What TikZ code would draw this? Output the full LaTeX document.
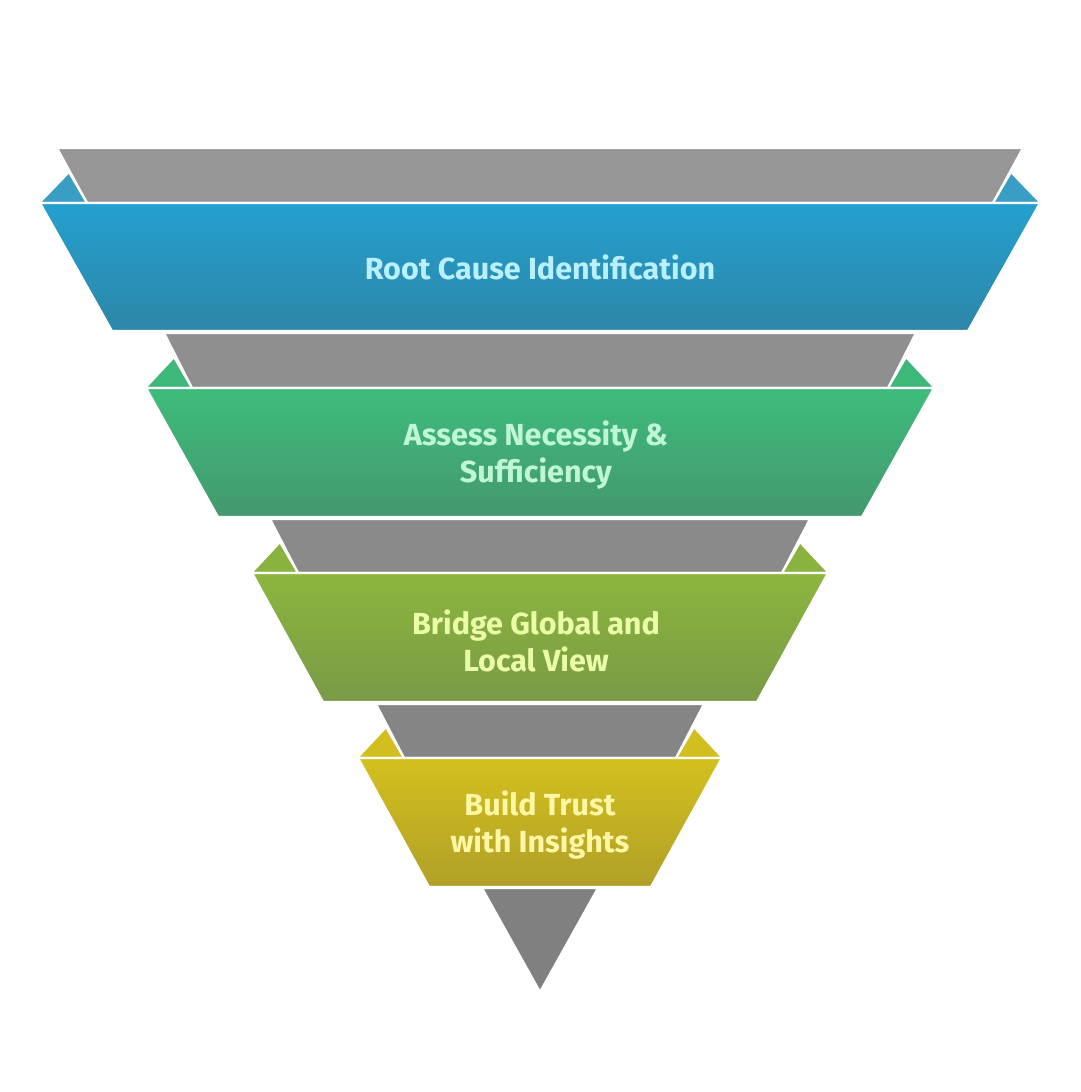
\documentclass[tikz,border=0pt]{standalone}
\usepackage{fontspec}
\setmainfont{Fira Sans}
\definecolor{grayA}{HTML}{969696}
\definecolor{grayB}{HTML}{8F8F8F}
\definecolor{grayC}{HTML}{8A8A8A}
\definecolor{grayD}{HTML}{858585}
\definecolor{grayE}{HTML}{808080}
\definecolor{blueT}{HTML}{23A0CF}
\definecolor{blueB}{HTML}{2E86A8}
\definecolor{blueE}{HTML}{3A9EC4}
\definecolor{greenT}{HTML}{3EBC7C}
\definecolor{greenB}{HTML}{44986E}
\definecolor{greenE}{HTML}{3DB878}
\definecolor{oliveT}{HTML}{8CB63E}
\definecolor{oliveB}{HTML}{7A9A46}
\definecolor{oliveE}{HTML}{8AB23E}
\definecolor{yelT}{HTML}{D4C01E}
\definecolor{yelB}{HTML}{B0A028}
\definecolor{yelE}{HTML}{D2BE1E}
\definecolor{txtBlue}{HTML}{B8F0FF}
\definecolor{txtGreen}{HTML}{BFF7D6}
\definecolor{txtOlive}{HTML}{EAFFA8}
\definecolor{txtYel}{HTML}{FFF6A6}
\begin{document}
\begin{tikzpicture}[x=1pt,y=-1pt,
  edge/.style={draw=white, line width=2.2pt, line join=round},
  lbl/.style={font=\fontsize{30.5}{36.5}\selectfont\bfseries, align=center, inner sep=0pt}]
\useasboundingbox (0,0) rectangle (1080,1092);
\fill[white] (0,0) rectangle (1080,1092);
% level 0
\fill[grayA, edge] (57,148) -- (1023,148) -- (993,203) -- (87,203) -- cycle;
\fill[blueE, edge] (39,203) -- (69,172) -- (87,203) -- cycle;
\fill[blueE, edge] (1041,203) -- (1011,172) -- (993,203) -- cycle;
\shade[top color=blueT, bottom color=blueB] (40,203) -- (1040,203) -- (968,331) -- (112,331) -- cycle;
\draw[edge] (40,203) -- (1040,203) -- (968,331) -- (112,331) -- cycle;
% level 1
\fill[grayB, edge] (164,333) -- (916,333) -- (888,388) -- (192,388) -- cycle;
\fill[greenE, edge] (145,388) -- (174,357) -- (192,388) -- cycle;
\fill[greenE, edge] (935,388) -- (906,357) -- (888,388) -- cycle;
\shade[top color=greenT, bottom color=greenB] (146,388) -- (934,388) -- (862,517) -- (218,517) -- cycle;
\draw[edge] (146,388) -- (934,388) -- (862,517) -- (218,517) -- cycle;
% level 2
\fill[grayC, edge] (270,519) -- (810,519) -- (782,573) -- (298,573) -- cycle;
\fill[oliveE, edge] (251,573) -- (280,542) -- (298,573) -- cycle;
\fill[oliveE, edge] (829,573) -- (800,542) -- (782,573) -- cycle;
\shade[top color=oliveT, bottom color=oliveB] (252,573) -- (828,573) -- (757,702) -- (323,702) -- cycle;
\draw[edge] (252,573) -- (828,573) -- (757,702) -- (323,702) -- cycle;
% level 3
\fill[grayD, edge] (376,704) -- (704,704) -- (676,758) -- (404,758) -- cycle;
\fill[yelE, edge] (357,758) -- (386,727) -- (404,758) -- cycle;
\fill[yelE, edge] (723,758) -- (694,727) -- (676,758) -- cycle;
\shade[top color=yelT, bottom color=yelB] (358,758) -- (722,758) -- (651,887) -- (429,887) -- cycle;
\draw[edge] (358,758) -- (722,758) -- (651,887) -- (429,887) -- cycle;
% bottom triangle
\fill[grayE, edge] (482,888) -- (598,888) -- (540,992) -- cycle;
% labels
\node[lbl, text=txtBlue] (l1) at (540,267) {Root Cause Identification};
\node[lbl, text=txtGreen] (l2) at (536,455) {Assess Necessity \&\\Sufficiency};
\node[lbl, text=txtOlive] (l3) at (536,641) {Bridge Global and\\Local View};
\node[lbl, text=txtYel] (l4) at (540,825) {Build Trust\\with Insights};
\end{tikzpicture}
\end{document}
